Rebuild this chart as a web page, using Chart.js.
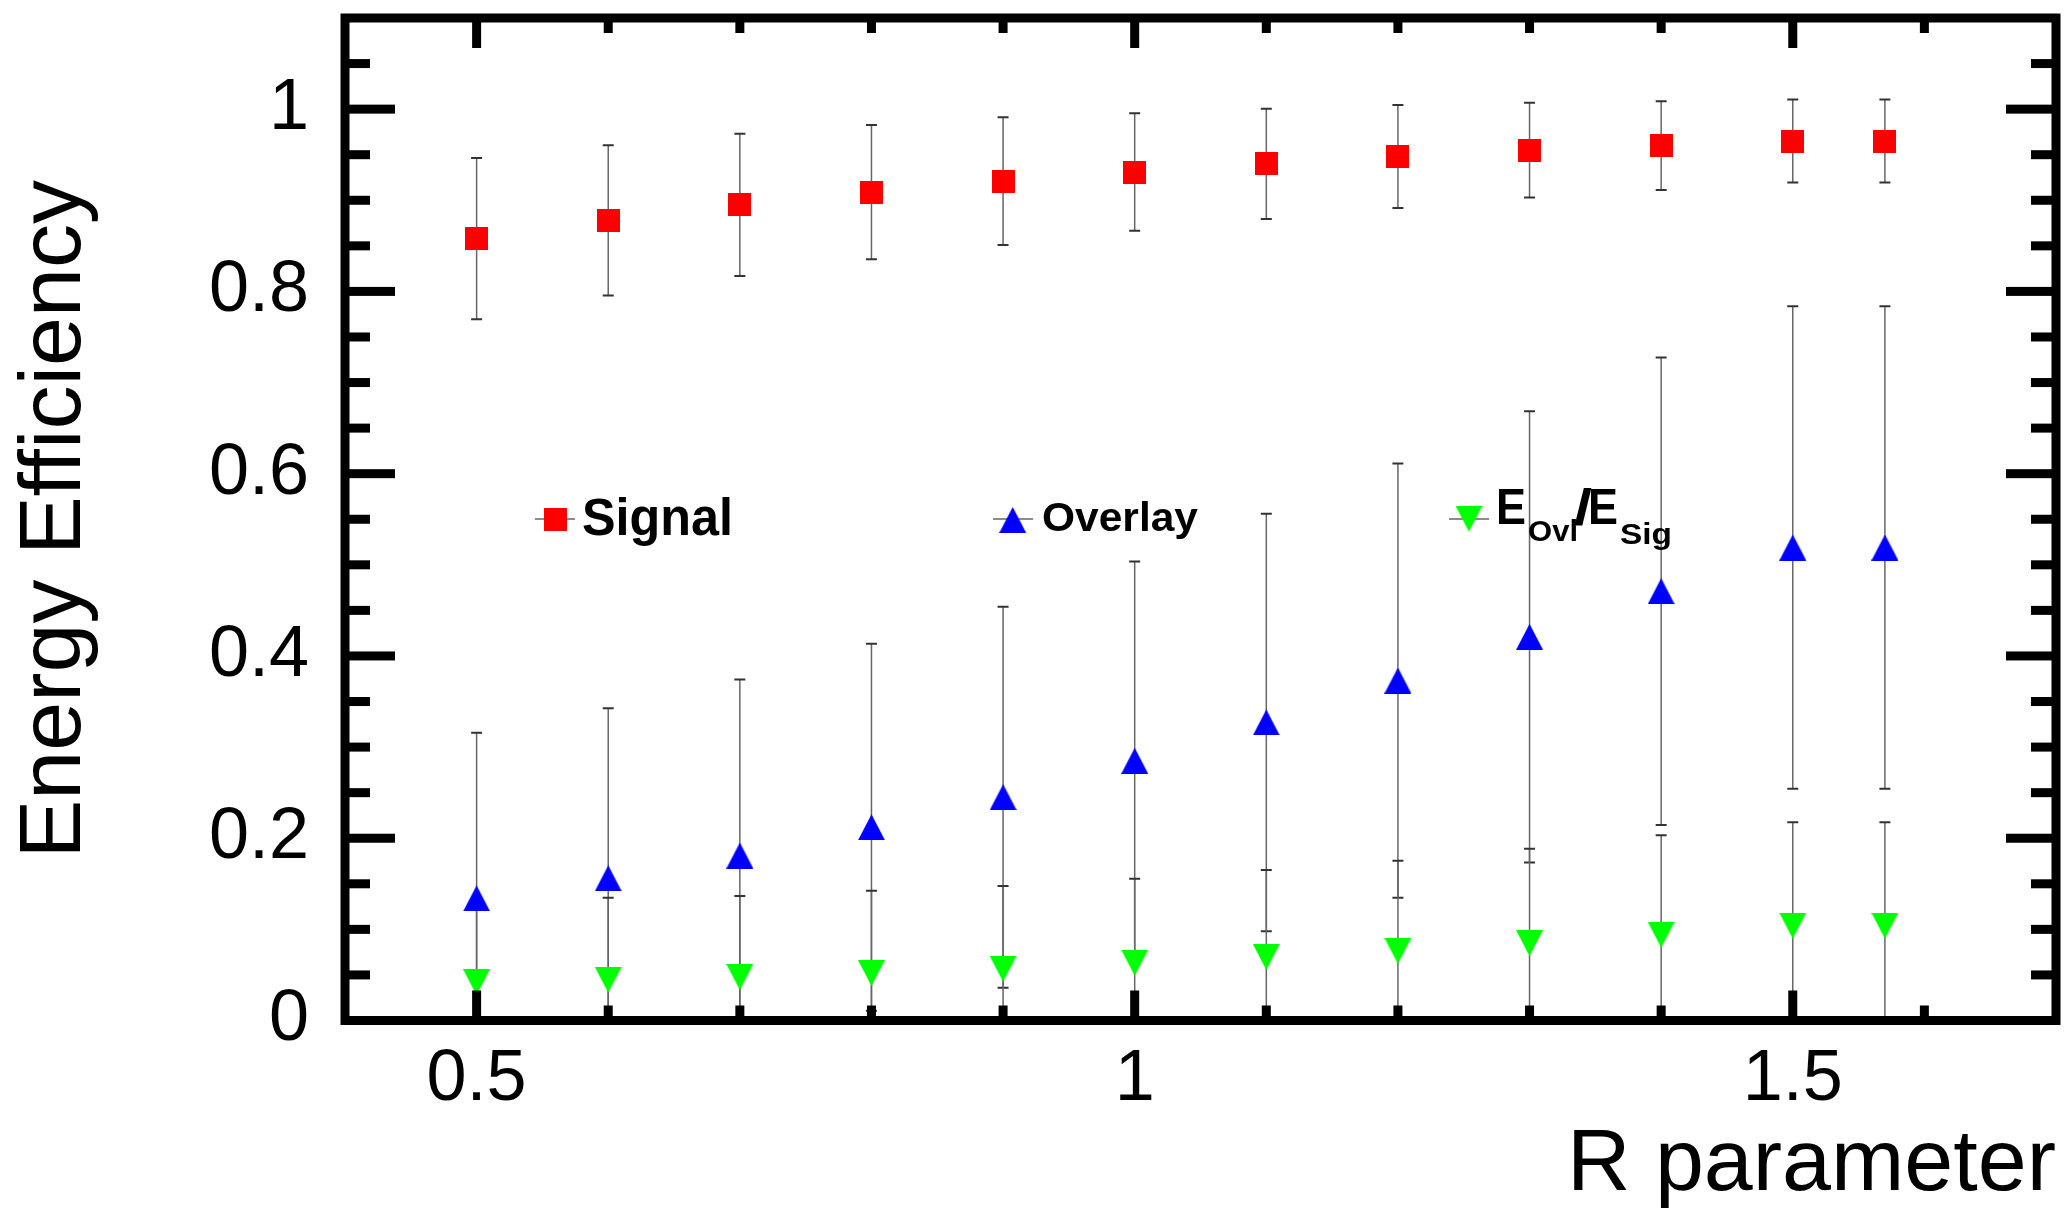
<!DOCTYPE html>
<html>
<head>
<meta charset="utf-8">
<title>Energy Efficiency vs R parameter</title>
<script src="https://cdn.jsdelivr.net/npm/chart.js"></script>
<style>
  body { margin: 0; background: #ffffff; }
  #effChart { display: block; }
</style>
</head>
<body>
<canvas id="effChart" width="2070" height="1211"></canvas>
<script>
// R parameter values (last point sits at pi/2)
const rValues = [0.5, 0.6, 0.7, 0.8, 0.9, 1.0, 1.1, 1.2, 1.3, 1.4, 1.5, 1.57];

// Signal energy efficiency and its error
const signalEff = [0.858, 0.878, 0.895, 0.909, 0.921, 0.931, 0.940, 0.948, 0.955, 0.960, 0.965, 0.965];
const signalErr = [0.0885, 0.0825, 0.078, 0.0736, 0.070, 0.0645, 0.0605, 0.0565, 0.052, 0.0486, 0.0455, 0.0455];

// Overlay energy efficiency and its error
const overlayEff = [0.134, 0.156, 0.181, 0.212, 0.245, 0.285, 0.327, 0.373, 0.421, 0.471, 0.519, 0.519];
const overlayErr = [0.1816, 0.1865, 0.1933, 0.2013, 0.209, 0.2186, 0.2291, 0.2383, 0.2476, 0.2565, 0.2648, 0.2648];

// E_Ovl / E_Sig and its error
const ratioEff = [0.042, 0.0447, 0.0477, 0.0521, 0.0567, 0.0633, 0.0697, 0.0765, 0.085, 0.0941, 0.104, 0.104];
const ratioErr = [0.0902, 0.090, 0.0889, 0.0903, 0.0909, 0.0923, 0.0954, 0.0988, 0.1035, 0.1091, 0.1134, 0.1134];

// labelled ticks
const xTickValues = [0.5, 1, 1.5];
const xTickLabels = ['0.5', '1', '1.5'];
const yTickValues = [0, 0.2, 0.4, 0.6, 0.8, 1];
const yTickLabels = ['0', '0.2', '0.4', '0.6', '0.8', '1'];

const FONT = "'Liberation Sans', Arial, Helvetica, sans-serif";

// small canvases used as point styles (ROOT like markers)
function makeMarker(kind, color) {
    const c = document.createElement('canvas');
    const w = kind === 'square' ? 23 : 27;
    const h = kind === 'square' ? 23 : 26;
    c.width = w;
    c.height = h;
    const g = c.getContext('2d');
    g.fillStyle = color;
    g.beginPath();
    if (kind === 'square') {
        g.rect(0, 0, w, h);
    } else if (kind === 'up') {
        g.moveTo(0, h); g.lineTo(w, h); g.lineTo(w / 2, 0);
    } else {
        g.moveTo(0, 0); g.lineTo(w, 0); g.lineTo(w / 2, h);
    }
    g.closePath();
    g.fill();
    return c;
}
const squareRed = makeMarker('square', '#ff0000');
const triUpBlue = makeMarker('up', '#0000ff');
const triDownGreen = makeMarker('down', '#00ff00');

function points(vals) {
    return rValues.map((r, i) => ({ x: r, y: vals[i] }));
}

// vertical error bars with caps, drawn under the markers
const errorBars = {
    id: 'errorBars',
    beforeDatasetsDraw(chart) {
        const ctx = chart.ctx;
        const area = chart.chartArea;
        const xs = chart.scales.x;
        const ys = chart.scales.y;
        ctx.save();
        ctx.beginPath();
        ctx.rect(area.left, area.top, area.right - area.left, area.bottom - area.top);
        ctx.clip();
        chart.data.datasets.forEach(ds => {
            ds.data.forEach((p, i) => {
                const e = ds.errors[i];
                const px = xs.getPixelForValue(p.x);
                const top = ys.getPixelForValue(p.y + e);
                const bot = ys.getPixelForValue(p.y - e);
                ctx.strokeStyle = '#666';
                ctx.lineWidth = 1.5;
                ctx.beginPath();
                ctx.moveTo(px, top);
                ctx.lineTo(px, bot);
                ctx.stroke();
                ctx.strokeStyle = '#333';
                ctx.lineWidth = 2;
                ctx.beginPath();
                ctx.moveTo(px - 5.5, top); ctx.lineTo(px + 5.5, top);
                ctx.moveTo(px - 5.5, bot); ctx.lineTo(px + 5.5, bot);
                ctx.stroke();
            });
        });
        ctx.restore();
    }
};

// thick frame with inward ticks on all four sides
const rootFrame = {
    id: 'rootFrame',
    afterDraw(chart) {
        const ctx = chart.ctx;
        const a = chart.chartArea;
        const xs = chart.scales.x;
        const ys = chart.scales.y;
        const tw = 9;
        ctx.save();
        ctx.fillStyle = '#000';
        for (let k = 1; k < 13; k++) {
            const v = 0.4 + k * 0.1;
            const major = (k === 1 || k === 6 || k === 11);
            const len = major ? 30 : 15;
            const px = xs.getPixelForValue(v);
            ctx.fillRect(px - tw / 2, a.bottom - len, tw, len);
            ctx.fillRect(px - tw / 2, a.top, tw, len);
        }
        for (let k = 1; k < 22; k++) {
            const v = k * 0.05;
            const len = (k % 4 === 0) ? 50 : 25;
            const py = ys.getPixelForValue(v);
            ctx.fillRect(a.left, py - tw / 2, len, tw);
            ctx.fillRect(a.right - len, py - tw / 2, len, tw);
        }
        ctx.strokeStyle = '#000';
        ctx.lineWidth = tw;
        ctx.lineJoin = 'miter';
        ctx.strokeRect(a.left, a.top, a.right - a.left, a.bottom - a.top);
        ctx.restore();
    }
};

// draws text squeezed or stretched to a given width
function fitText(ctx, text, x, baseline, size, width) {
    ctx.font = 'bold ' + size + 'px ' + FONT;
    const w = ctx.measureText(text).width;
    ctx.save();
    ctx.translate(x, baseline);
    ctx.scale(width / w, 1);
    ctx.fillText(text, 0, 0);
    ctx.restore();
}

const rootLegend = {
    id: 'rootLegend',
    afterDraw(chart) {
        const ctx = chart.ctx;
        const entries = [
            { marker: squareRed, cx: 555, cy: 519, x1: 535, x2: 575 },
            { marker: triUpBlue, cx: 1012.7, cy: 520, x1: 993, x2: 1033 },
            { marker: triDownGreen, cx: 1469, cy: 518.7, x1: 1449, x2: 1489 }
        ];
        ctx.save();
        entries.forEach(en => {
            ctx.strokeStyle = '#666';
            ctx.lineWidth = 1.5;
            ctx.beginPath();
            ctx.moveTo(en.x1, 519);
            ctx.lineTo(en.x2, 519);
            ctx.stroke();
            ctx.drawImage(en.marker, en.cx - en.marker.width / 2, en.cy - en.marker.height / 2);
        });
        ctx.fillStyle = '#000';
        ctx.textBaseline = 'alphabetic';
        ctx.textAlign = 'left';
        fitText(ctx, 'Signal', 582, 535, 51, 151);
        fitText(ctx, 'Overlay', 1042, 531, 40, 156);
        fitText(ctx, 'E', 1496, 524, 50, 30);
        fitText(ctx, 'Ovl', 1528, 541, 29, 50);
        fitText(ctx, '/', 1574, 524, 50, 18);
        fitText(ctx, 'E', 1588, 524, 50, 30);
        fitText(ctx, 'Sig', 1620, 544, 30, 52);
        ctx.restore();
    }
};

const ctx = document.getElementById('effChart').getContext('2d');
const effChart = new Chart(ctx, {
    type: 'scatter',
    data: {
        datasets: [
            {
                label: 'Signal',
                data: points(signalEff),
                errors: signalErr,
                pointStyle: squareRed,
                pointRadius: 12,
                showLine: false,
                order: 3
            },
            {
                label: 'Overlay',
                data: points(overlayEff),
                errors: overlayErr,
                pointStyle: triUpBlue,
                pointRadius: 13,
                showLine: false,
                order: 2
            },
            {
                label: 'E_Ovl/E_Sig',
                data: points(ratioEff),
                errors: ratioErr,
                pointStyle: triDownGreen,
                pointRadius: 13,
                showLine: false,
                order: 1
            }
        ]
    },
    options: {
        responsive: false,
        animation: false,
        events: [],
        layout: { padding: { top: 18, right: 14, left: 0, bottom: 0 } },
        plugins: {
            legend: { display: false },
            tooltip: { enabled: false }
        },
        scales: {
            x: {
                type: 'linear',
                position: 'bottom',
                min: 0.4,
                max: 1.7,
                grid: { display: false, drawTicks: false },
                border: { display: false },
                afterBuildTicks(scale) {
                    scale.ticks = xTickValues.map(v => ({ value: v }));
                },
                afterFit(scale) {
                    scale.height = 190.5;
                    scale.paddingLeft = 0;
                    scale.paddingRight = 0;
                },
                ticks: {
                    autoSkip: false,
                    maxRotation: 0,
                    padding: 16,
                    color: '#000',
                    font: { family: FONT, size: 72 },
                    callback(value) {
                        const k = xTickValues.indexOf(value);
                        return k >= 0 ? xTickLabels[k] : '';
                    }
                },
                title: {
                    display: true,
                    text: 'R parameter',
                    align: 'end',
                    color: '#000',
                    font: { family: FONT, size: 88, lineHeight: 1 },
                    padding: { top: 0, bottom: 1 }
                }
            },
            y: {
                type: 'linear',
                min: 0,
                max: 1.1,
                grid: { display: false, drawTicks: false },
                border: { display: false },
                afterBuildTicks(scale) {
                    scale.ticks = yTickValues.map(v => ({ value: v }));
                },
                afterFit(scale) {
                    scale.width = 345;
                    scale.paddingTop = 0;
                    scale.paddingBottom = 0;
                },
                ticks: {
                    autoSkip: false,
                    padding: 36,
                    color: '#000',
                    font: { family: FONT, size: 72 },
                    callback(value) {
                        const k = yTickValues.indexOf(value);
                        return k >= 0 ? yTickLabels[k] : '';
                    }
                },
                title: {
                    display: true,
                    text: 'Energy Efficiency',
                    align: 'center',
                    color: '#000',
                    font: { family: FONT, size: 88, lineHeight: 1 },
                    padding: { top: 12, bottom: 0 }
                }
            }
        }
    },
    plugins: [errorBars, rootFrame, rootLegend]
});
</script>
</body>
</html>
